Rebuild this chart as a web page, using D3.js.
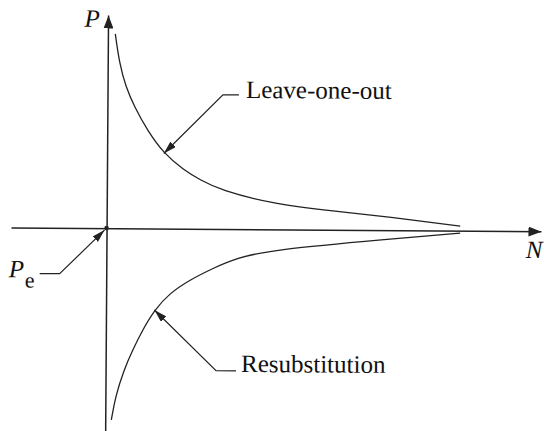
<!DOCTYPE html>
<html>
<head>
<meta charset="utf-8">
<script src="https://cdn.jsdelivr.net/npm/d3@7"></script>
<style>
    html, body { margin: 0; padding: 0; background: #fff; }
    svg { display: block; }
</style>
</head>
<body>
<div id="chart"></div>
<script>
// sample size N (arbitrary units) and error estimate P - Pe
const nUpper = [1.7, 2.7, 4.2, 6.2, 9.2, 13.05, 17.7, 21.5, 26.1, 38.1, 51.5, 65.0, 81.4];
const leaveOneOut = [4.74, 4.02, 3.45, 2.97, 2.40, 1.83, 1.43, 1.19, 0.95, 0.62, 0.46, 0.32, 0.11];
const nLower = [1.4, 2.3, 4.2, 6.2, 8.45, 11.14, 14.6, 19.2, 24.6, 29.9, 38.1, 65.0, 81.4];
const resubstitution = [-4.68, -4.11, -3.46, -2.97, -2.48, -1.99, -1.58, -1.25, -0.96, -0.71, -0.50, -0.22, -0.06];

const seriesNames = ['Leave-one-out', 'Resubstitution'];
const axisNames = ['P', 'N'];
const nExtent = [-22, 100];
const pExtent = [-4.95, 5.2];

const width = 544;
const height = 431;
const ink = '#222';
const font = '"Liberation Serif", "Tinos", "Times New Roman", "DejaVu Serif", serif';

const xScale = d3.scaleLinear().domain(nExtent).range([11, 541]);
const yScale = d3.scaleLinear().domain(pExtent).range([431, 15]);

const svg = d3.select('#chart').append('svg')
    .attr('width', width)
    .attr('height', height);

const defs = svg.append('defs');
function addArrow(id, len, half) {
    defs.append('marker')
        .attr('id', id)
        .attr('markerUnits', 'userSpaceOnUse')
        .attr('viewBox', `0 ${-half} ${len} ${half * 2}`)
        .attr('refX', len)
        .attr('refY', 0)
        .attr('markerWidth', len)
        .attr('markerHeight', half * 2)
        .attr('orient', 'auto')
        .append('path')
        .attr('d', `M0,${-half}L${len},0L0,${half}Z`)
        .style('fill', ink);
}
addArrow('axis-arrow', 13, 5);
addArrow('lead-arrow', 13, 3.8);

// the scan is turned a little, so is the whole drawing
const x0 = xScale(0);
const y0 = yScale(0);
const g = svg.append('g')
    .attr('transform', `rotate(0.4, ${x0}, ${y0})`);

// axes, no ticks, arrow at the end
const xAxis = g.append('g')
    .attr('transform', `translate(0, ${y0})`)
    .call(d3.axisBottom(xScale).tickValues([]).tickSizeOuter(0));
const yAxis = g.append('g')
    .attr('transform', `translate(${x0}, 0)`)
    .call(d3.axisLeft(yScale).tickValues([]).tickSizeOuter(0));
[xAxis, yAxis].forEach(a => {
    a.select('.domain')
        .attr('stroke', ink)
        .attr('stroke-width', 1.5)
        .attr('marker-end', 'url(#axis-arrow)');
});

// curves (basis smooths out the reading noise)
const line = d3.line()
    .x(d => xScale(d[0]))
    .y(d => yScale(d[1]))
    .curve(d3.curveBasis);

const upper = nUpper.map((n, i) => [n, leaveOneOut[i]]);
const lower = nLower.map((n, i) => [n, resubstitution[i]]);
[upper, lower].forEach(pts => {
    g.append('path')
        .attr('d', line(pts))
        .attr('fill', 'none')
        .attr('stroke', ink)
        .attr('stroke-width', 1.3);
});

// Pe dot
g.append('circle')
    .attr('cx', x0)
    .attr('cy', y0)
    .attr('r', 2.3)
    .style('fill', ink);

// leaders: [elbow start, elbow end], tip on the curve
function leader(points) {
    g.append('path')
        .attr('d', d3.line()(points))
        .attr('fill', 'none')
        .attr('stroke', ink)
        .attr('stroke-width', 1.2)
        .attr('marker-end', 'url(#lead-arrow)');
}
const tipUp = [xScale(upper[5][0]), yScale(upper[5][1])];
const tipLow = [xScale(lower[5][0]), yScale(lower[5][1])];
leader([[238, 94], [222, 94], tipUp]);
leader([[237, 370], [217, 370], tipLow]);
leader([[40, 274], [60, 274], [x0 - 2, y0 + 2]]);

// text
function label(x, y, txt, italic) {
    return g.append('text')
        .attr('x', x)
        .attr('y', y)
        .attr('font-family', font)
        .attr('font-size', 25)
        .attr('font-style', italic ? 'italic' : 'normal')
        .attr('fill', '#111')
        .text(txt);
}
label(245, 97, seriesNames[0], false);
label(242, 371, seriesNames[1], false);
label(83, 27, axisNames[0], true);
label(526, 255, axisNames[1], true);
const pe = label(9, 278, 'P', true);
pe.append('tspan')
    .attr('dx', 1)
    .attr('dy', 10)
    .attr('font-style', 'normal')
    .attr('font-size', 22)
    .text('e');
</script>
</body>
</html>
